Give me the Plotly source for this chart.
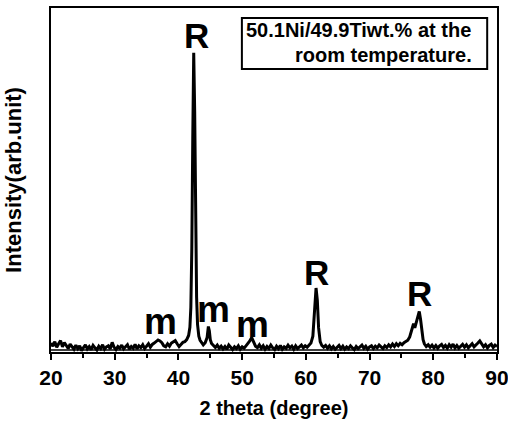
import plotly.graph_objects as go

two_theta = [20.0,20.3,20.6,20.9,21.2,21.5,21.8,22.1,22.4,22.7,23.0,23.3,23.6,23.9,24.2,24.5,24.8,25.1,25.4,25.7,
 26.0,26.3,26.6,26.9,27.2,27.5,27.8,28.1,28.4,28.7,29.0,29.3,29.6,29.9,30.2,30.5,30.8,31.1,31.4,31.7,
 32.0,32.3,32.6,32.9,33.2,33.5,33.8,34.1,34.4,34.7,35.0,35.3,35.6,35.9,36.2,36.5,36.8,37.1,37.4,37.7,
 38.0,38.3,38.6,38.9,39.2,39.5,39.8,40.1,40.4,40.7,41.0,41.3,41.6,41.8,41.95,42.1,42.25,42.4,42.55,42.7,
 42.85,43.0,43.2,43.4,43.6,43.9,44.2,44.5,44.7,44.85,45.0,45.2,45.5,45.8,46.1,46.4,46.7,47.0,47.3,47.6,
 47.9,48.2,48.5,48.8,49.1,49.4,49.7,50.0,50.3,50.6,50.9,51.2,51.5,51.8,52.1,52.4,52.7,53.0,53.3,53.6,
 53.9,54.2,54.5,54.8,55.1,55.4,55.7,56.0,56.3,56.6,56.9,57.2,57.5,57.8,58.1,58.4,58.7,59.0,59.3,59.6,
 59.9,60.2,60.5,60.8,61.1,61.35,61.6,61.8,62.0,62.25,62.5,62.8,63.1,63.4,63.7,64.0,64.3,64.6,64.9,65.2,
 65.5,65.8,66.1,66.4,66.7,67.0,67.3,67.6,67.9,68.2,68.5,68.8,69.1,69.4,69.7,70.0,70.3,70.6,70.9,71.2,
 71.5,71.8,72.1,72.4,72.7,73.0,73.3,73.6,73.9,74.2,74.5,74.8,75.1,75.4,75.7,76.0,76.3,76.6,76.9,77.1,
 77.3,77.6,77.8,78.0,78.2,78.4,78.6,78.9,79.2,79.5,79.8,80.1,80.4,80.7,81.0,81.3,81.6,81.9,82.2,82.5,
 82.8,83.1,83.4,83.7,84.0,84.3,84.6,84.9,85.2,85.5,85.8,86.1,86.4,86.7,87.0,87.3,87.6,87.9,88.2,88.5,
 88.8,89.1,89.4,89.7,90.0]

intensity = [26,17,30,14,24,33,15,27,19,10,23,15,8,20,10,18,4,13,21,9,
 16,7,19,12,6,17,10,21,8,15,18,9,28,14,7,16,11,20,9,15,
 21,8,16,11,22,9,18,13,21,10,19,24,14,22,26,31,35,32,27,18,
 15,24,17,26,30,33,24,16,22,28,30,36,48,72,130,300,620,870,700,380,
 160,80,46,34,27,21,27,42,74,62,36,25,19,13,20,11,17,9,16,8,
 20,12,7,15,10,18,8,15,11,18,24,32,42,28,17,13,21,11,18,8,
 16,10,20,12,7,17,10,19,8,15,11,20,12,17,8,18,10,15,20,12,
 18,14,21,26,46,110,186,150,70,30,19,14,19,11,18,9,16,8,15,19,
 10,17,8,15,10,18,12,7,16,10,15,20,11,17,8,15,18,10,17,12,
 20,14,10,18,13,21,15,23,16,24,18,25,21,27,30,34,44,62,82,70,
 84,110,118,95,60,36,24,16,21,14,20,12,19,11,18,22,13,19,11,21,
 14,23,12,19,11,18,22,14,21,12,19,24,15,22,26,32,22,15,21,12,
 19,23,13,20,16]

baseline_x = [20.0, 90.0]
baseline_y = [6, 6]

peak_labels = ["R", "m", "m", "m", "R", "R"]
label_x = [42.9, 37.2, 45.5, 51.6, 61.7, 77.8]
label_y = [920, 90, 125, 80, 230, 170]
label_size = [35, 37, 37, 37, 35, 35]

FONT = "Liberation Sans"

fig = go.Figure()
fig.add_trace(go.Scatter(x=baseline_x, y=baseline_y, mode="lines",
                         line=dict(color="black", width=1.5), hoverinfo="skip"))
fig.add_trace(go.Scatter(x=two_theta, y=intensity, mode="lines",
                         line=dict(color="black", width=3)))

for t, x, y, s in zip(peak_labels, label_x, label_y, label_size):
    fig.add_annotation(x=x, y=y, text=t, showarrow=False, xanchor="center", yanchor="middle",
                       font=dict(family=FONT, size=s, color="black", weight="bold"))

fig.add_shape(type="rect", xref="paper", yref="paper", x0=0.428, x1=0.978, y0=0.823, y1=0.971,
              line=dict(color="black", width=2), fillcolor="white")
fig.add_annotation(xref="paper", yref="paper", x=0.433, y=0.936, text="50.1Ni/49.9Tiwt.% at the",
                   showarrow=False, xanchor="left", yanchor="middle",
                   font=dict(family=FONT, size=20, color="black", weight="bold"))
fig.add_annotation(xref="paper", yref="paper", x=0.948, y=0.863, text="room temperature.",
                   showarrow=False, xanchor="right", yanchor="middle",
                   font=dict(family=FONT, size=20, color="black", weight="bold"))

fig.update_layout(
    width=508, height=425,
    margin=dict(l=51, r=11, t=8, b=73, autoexpand=False),
    paper_bgcolor="white", plot_bgcolor="white",
    showlegend=False,
    font=dict(family=FONT, color="black"),
)
fig.update_xaxes(range=[20, 90], tickvals=[20, 30, 40, 50, 60, 70, 80, 90],
                 ticklabeloverflow="allow", automargin=False,
                 ticks="outside", ticklen=6, tickwidth=2, tickcolor="black",
                 minor=dict(tickvals=[25, 35, 45, 55, 65, 75, 85], ticks="outside", ticklen=4,
                            tickwidth=1.5, tickcolor="black"),
                 showline=True, linewidth=2, linecolor="black", mirror=True,
                 showgrid=False, zeroline=False,
                 tickfont=dict(family=FONT, size=21, color="black", weight="bold"),
                 title=dict(text="2 theta (degree)", standoff=13,
                            font=dict(family=FONT, size=20, color="black", weight="bold")))
fig.update_yaxes(range=[0, 1000], showticklabels=False, ticks="", automargin=False,
                 showline=True, linewidth=2, linecolor="black", mirror=True,
                 showgrid=False, zeroline=False,
                 title=dict(text="Intensity(arb.unit)", standoff=21,
                            font=dict(family=FONT, size=22, color="black", weight="bold")))

fig.write_html("out.html")
